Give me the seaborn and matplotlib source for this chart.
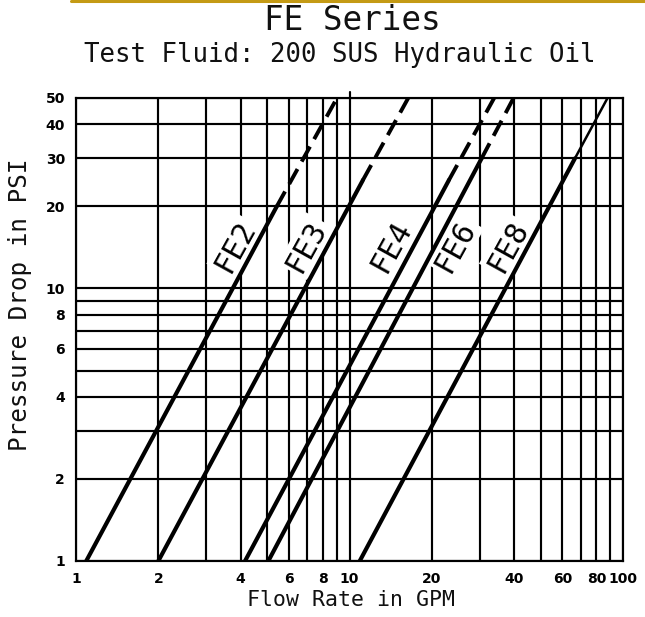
import numpy as np
import pandas as pd
import matplotlib
matplotlib.use("Agg")
import matplotlib.pyplot as plt
import matplotlib.transforms as mtransforms
from matplotlib.lines import Line2D
import seaborn as sns

# ---------------- data ----------------
models = ["FE2", "FE3", "FE4", "FE6", "FE8"]
flow_at_1psi = [1.09, 2.0, 4.15, 5.05, 10.9]      # GPM where each curve starts (1 PSI)
rated_psi = [20, 25, 25, 30, 30]                  # end of solid (rated) portion
rated_flow = [5.42, 11.2, 23.1, 30.4, 66.7]       # GPM at end of solid portion
max_psi = [50, 50, 50, 50, 50]                    # extension reaches top of chart
flow_at_max = [9.0, 16.4, 33.8, 39.8, 87.8]       # GPM at 50 PSI (extension)

x_grid = [1, 2, 3, 4, 5, 6, 7, 8, 9, 10, 20, 30, 40, 50, 60, 70, 80, 90, 100]
x_labeled = [1, 2, 4, 6, 8, 10, 20, 40, 60, 80, 100]
y_grid = [1, 2, 3, 4, 5, 6, 7, 8, 9, 10, 20, 30, 40, 50]
y_labeled = [1, 2, 4, 6, 8, 10, 20, 30, 40, 50]

title = "FE Series"
subtitle = "Test Fluid: 200 SUS Hydraulic Oil"
xlabel = "Flow Rate in GPM"
ylabel = "Pressure Drop in PSI"

# ---------------- styles / layout ----------------
ext_style = ["dash", "dash", "dash", "dash", "thin"]
label_psi = 14.3
label_dx_px = [-20, -21, -22, 20, -20]

solid_df = pd.DataFrame({
    "model": models + models,
    "flow": flow_at_1psi + rated_flow,
    "psi": [1] * len(models) + rated_psi,
})
ext_df = pd.DataFrame({
    "model": models + models,
    "flow": rated_flow + flow_at_max,
    "psi": rated_psi + max_psi,
    "style": ext_style + ext_style,
})

sns.set_theme(style="white")
plt.rcParams["font.family"] = ["DejaVu Sans"]

W, H = 645, 617
fig = plt.figure(figsize=(W / 100, H / 100), dpi=100)
ax = fig.add_axes([76 / W, 1 - 561 / H, (623 - 76) / W, (561 - 98) / H])
ax.set_xscale("log")
ax.set_yscale("log")

grid_lw = 1.55
# vertical grid (below labels)
for xv in x_grid:
    ax.axvline(xv, color="black", lw=grid_lw, zorder=1)
# horizontal grid (above label boxes)
for yv in y_grid:
    ax.axhline(yv, color="black", lw=grid_lw, zorder=3)
# x=10 line pokes above frame
ax.axvline(10, ymin=1.0, ymax=1.012, color="black", lw=grid_lw, clip_on=False, zorder=3)

sns.lineplot(data=solid_df, x="flow", y="psi", units="model", estimator=None,
             color="black", linewidth=3.0, ax=ax, legend=False, zorder=5)
sns.lineplot(data=ext_df[ext_df["style"] == "dash"], x="flow", y="psi", units="model",
             estimator=None, color="black", linewidth=2.8, linestyle=(0, (4.4, 2.2)),
             ax=ax, legend=False, zorder=5)
sns.lineplot(data=ext_df[ext_df["style"] == "thin"], x="flow", y="psi", units="model",
             estimator=None, color="black", linewidth=1.8, ax=ax, legend=False, zorder=5)

ax.set_xlim(1, 100)
ax.set_ylim(1, 50)
ax.set_xticks(x_grid)
ax.set_xticklabels([str(v) if v in x_labeled else "" for v in x_grid])
ax.set_yticks(y_grid)
ax.set_yticklabels([str(v) if v in y_labeled else "" for v in y_grid])
ax.minorticks_off()
ax.tick_params(length=0, labelsize=10)
ax.tick_params(axis="x", pad=8)
ax.tick_params(axis="y", pad=8)
for lab in ax.get_xticklabels() + ax.get_yticklabels():
    lab.set_fontweight("bold")
    lab.set_color("black")
ax.set_xlabel("")
ax.set_ylabel("")
ax.grid(False)
for sp in ax.spines.values():
    sp.set_color("black")
    sp.set_linewidth(grid_lw)
    sp.set_zorder(6)

# curve labels
for m, f1, rf, rp, dx in zip(models, flow_at_1psi, rated_flow, rated_psi, label_dx_px):
    lx = np.exp(np.log(f1) + np.log(label_psi) / np.log(rp) * (np.log(rf) - np.log(f1)))
    tr = mtransforms.offset_copy(ax.transData, fig=fig, x=dx, y=0, units="dots")
    ax.text(lx, label_psi, m, transform=tr, rotation=61, rotation_mode="anchor",
            ha="center", va="center", fontsize=21.5, family="DejaVu Sans Mono",
            color="black", zorder=2,
            bbox=dict(boxstyle="square,pad=0.08", fc="white", ec="none"))

# titles and axis labels
fig.text(352 / W, 1 - 21 / H, title, ha="center", va="center", fontsize=23.5,
         family="DejaVu Sans Mono", color="#111111")
fig.text(340 / W, 1 - 55 / H, subtitle, ha="center", va="center", fontsize=18.5,
         family="DejaVu Sans Mono", color="#111111")
fig.text(351 / W, 1 - 600 / H, xlabel, ha="center", va="center", fontsize=15.5,
         family="DejaVu Sans Mono", color="#111111")
fig.text(20 / W, 1 - 305 / H, ylabel, ha="center", va="center", fontsize=17.5,
         rotation=90, family="DejaVu Sans Mono", color="#111111")

# gold rule at top
fig.add_artist(Line2D([71 / W, 1.0], [1 - 1.2 / H, 1 - 1.2 / H], color="#C49A14",
                      lw=2.2, transform=fig.transFigure))

fig.savefig("out.png", dpi=100, facecolor="white")
